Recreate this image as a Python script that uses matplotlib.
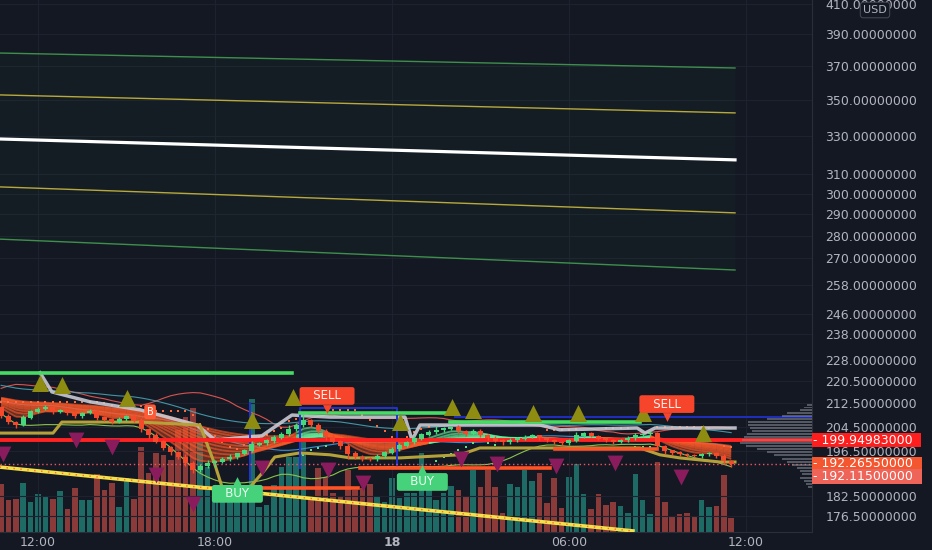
import numpy as np
import pandas as pd
import matplotlib
matplotlib.use('Agg')
import matplotlib.pyplot as plt
from matplotlib.collections import LineCollection

# 15 minute bars, hour 0 = 12:00 on the 17th
bar_start = -1.25
bar_step = 0.25
first_open = 211.0

# closes before the visible window, only used to warm up the indicators
prior_closes = [216.0, 215.4, 215.8, 214.6, 214.9, 213.8, 213.2, 213.9, 212.6, 212.1, 211.4, 211.8]

closes = [208.0, 206.0, 205.0, 207.5, 209.5, 210.5, 211.0, 209.5, 210.0, 209.0,
          208.0, 209.0, 209.8, 207.5, 206.8, 206.0, 207.0, 208.0, 206.5, 203.5,
          201.5, 199.5, 197.5, 196.0, 194.5, 192.5, 190.5, 191.5, 192.5, 193.0,
          193.8, 194.5, 195.5, 196.5, 198.5, 199.0, 199.8, 200.8, 202.0, 203.5,
          205.0, 206.5, 205.0, 203.0, 201.0, 199.5, 198.0, 195.5, 194.5, 194.0,
          193.8, 194.8, 195.8, 197.0, 198.2, 199.2, 200.5, 201.8, 202.6, 203.2,
          203.8, 204.2, 203.0, 202.0, 203.0, 201.6, 200.6, 199.8, 199.2, 199.9,
          200.5, 201.0, 201.4, 200.6, 199.9, 199.3, 198.9, 199.8, 201.4, 202.2,
          201.3, 200.5, 199.9, 199.4, 200.0, 200.6, 201.5, 201.9, 202.2, 198.0,
          196.5, 195.8, 195.4, 195.1, 194.8, 195.3, 195.6, 194.8, 193.2, 192.27]

wick_up = [0.6, 0.8, 0.5, 0.9, 0.7, 0.6, 0.8, 0.5, 0.6, 0.4,
           0.7, 0.5, 0.6, 0.4, 0.5, 0.6, 0.7, 0.5, 0.6, 0.8,
           0.5, 0.9, 0.6, 0.7, 0.5, 0.8, 0.6, 0.7, 0.9, 0.5,
           0.6, 0.8, 0.4, 0.7, 1.2, 0.5, 0.6, 0.9, 0.7, 1.5,
           0.8, 2.5, 0.7, 0.6, 0.5, 0.9, 0.4, 0.6, 0.8, 0.5,
           0.4, 0.7, 0.5, 0.6, 0.8, 0.5, 0.9, 0.6, 0.7, 1.4,
           0.6, 0.5, 0.7, 0.4, 0.6, 0.5, 0.4, 0.6, 0.5, 0.7,
           0.4, 0.5, 0.6, 0.4, 0.5, 0.6, 0.3, 0.5, 1.2, 0.6,
           0.4, 0.5, 0.6, 0.4, 0.5, 0.6, 0.7, 0.5, 0.9, 0.6,
           0.5, 0.4, 0.6, 0.5, 0.4, 0.6, 0.5, 0.4, 0.6, 0.3]

wick_dn = [0.5, 0.7, 0.9, 0.4, 0.6, 0.5, 0.4, 0.7, 0.5, 0.6,
           0.5, 0.6, 0.4, 0.7, 0.5, 0.8, 0.4, 0.6, 0.5, 0.7,
           0.9, 0.6, 0.8, 1.0, 0.7, 0.9, 1.2, 0.8, 0.6, 1.1,
           0.5, 0.7, 0.6, 0.5, 0.4, 0.6, 0.5, 0.7, 0.4, 0.6,
           0.5, 0.8, 0.6, 0.7, 0.9, 0.6, 0.8, 1.5, 0.7, 0.9,
           0.6, 0.5, 0.7, 0.4, 0.6, 0.5, 0.4, 0.6, 0.5, 0.7,
           0.4, 0.5, 0.6, 0.8, 0.5, 0.6, 0.7, 0.5, 0.9, 0.4,
           0.5, 0.6, 0.4, 0.5, 0.7, 0.5, 0.6, 0.4, 0.5, 0.6,
           0.4, 0.5, 0.6, 0.7, 0.4, 0.5, 0.6, 0.4, 0.5, 0.8,
           1.2, 0.6, 0.5, 0.7, 0.4, 0.6, 0.5, 0.7, 0.9, 0.8]

volumes = [48, 32, 33, 49, 30, 38, 36, 33, 41, 23,
           44, 32, 32, 58, 42, 49, 25, 54, 33, 85,
           59, 79, 77, 72, 102, 115, 124, 105, 65, 42,
           45, 39, 40, 45, 133, 25, 27, 47, 65, 75,
           75, 90, 32, 64, 55, 39, 35, 62, 42, 44,
           48, 35, 30, 54, 34, 39, 39, 79, 42, 32,
           39, 46, 42, 35, 62, 45, 62, 45, 19, 48,
           45, 62, 51, 59, 29, 54, 24, 55, 68, 38,
           23, 38, 27, 30, 26, 19, 58, 32, 18, 70,
           30, 15, 18, 19, 15, 32, 25, 26, 57, 14]

# regression channel (start / end of the fitted window)
reg_t = [-1.3, 23.63]
reg_mid = [328.3, 317.2]
reg_up1 = [353.0, 342.7]
reg_dn1 = [303.4, 290.7]
reg_up2 = [378.2, 369.0]
reg_dn2 = [278.4, 264.6]

# long trend line
trend_t = [-1.3, 20.17]
trend_p = [191.3, 172.2]

# horizontal levels (start hour, end hour, price)
green_levels = [(-1.3, 8.6, 223.4), (8.88, 13.86, 209.1), (13.97, 20.4, 206.0)]
red_levels = [(5.49, 10.85, 184.8), (10.92, 17.36, 191.0), (17.53, 21.0, 197.1)]
blue_level = (14.14, 26.3, 207.7)
blue_box = (8.88, 12.17, 191.0, 210.9)
blue_vline = (7.19, 187.3, 212.6)
key_level = 199.94983
last_price = 192.2655
prev_close = 192.115

# trailing stops
trail_t = [0.07, 0.47, 1.76, 3.46, 5.39, 6.0, 7.59, 8.61, 9.9, 12.44, 12.68, 12.95,
           17.02, 17.69, 20.31, 20.58, 20.92, 23.63]
trail_p = [223.4, 216.5, 213.0, 210.2, 205.0, 200.0, 201.4, 208.4, 207.7, 207.7, 200.0, 205.0,
           205.0, 203.4, 204.0, 202.3, 204.0, 204.0]
stop_t = [-1.29, 0.51, 0.81, 3.46, 5.49, 6.0, 6.24, 7.19, 7.69, 8.03, 8.88, 9.9, 10.58,
          12.27, 14.31, 14.98, 17.36, 20.41, 21.08, 21.76, 23.12, 23.63]
stop_p = [202.3, 202.3, 206.0, 206.0, 205.0, 192.0, 185.1, 185.1, 190.4, 194.5, 195.8, 195.2, 194.2,
          194.2, 195.2, 197.4, 197.4, 197.4, 195.2, 194.2, 192.9, 192.9]

# signal markers
up_tri_t = [0.07, 0.81, 3.02, 7.25, 8.64, 12.27, 14.03, 14.75, 16.78, 18.31, 20.5, 22.54]
up_tri_p = [219.7, 219.0, 214.3, 206.7, 214.7, 206.0, 211.2, 210.2, 209.1, 209.1, 209.1, 202.3]
dn_tri_t = [-1.19, 1.29, 2.51, 4.0, 5.25, 7.59, 9.83, 11.02, 14.34, 15.56, 17.56, 19.56, 21.8]
dn_tri_p = [195.5, 200.0, 197.7, 188.8, 180.0, 191.0, 190.4, 186.3, 193.9, 192.2, 191.7, 192.6, 188.2]

buy_t = [6.76, 13.03]
buy_p = [187.0, 190.7]
sell_t = [9.8, 21.32]
sell_p = [210.5, 207.7]
b_tag = (3.8, 209.5)

# volume profile on the right edge
vp_price = list(range(185, 213))
vp_len = [4, 6, 8, 12, 10, 12, 15, 20, 25, 30, 38, 45, 55, 66, 72, 70, 68, 65, 60, 62,
          64, 64, 45, 30, 25, 12, 8, 5]

price_ticks = [410, 390, 370, 350, 330, 310, 300, 290, 280, 270, 258, 246, 238, 228,
               220.5, 212.5, 204.5, 196.5, 182.5, 176.5]
time_ticks = [0, 6, 12, 18, 24]
time_labels = ['12:00', '18:00', '18', '06:00', '12:00']

BG = '#141823'
GRID = '#1e2230'
TXT = '#b2b5be'
UP = '#45d97c'
DN = '#f5492c'

n = len(closes)
t = bar_start + bar_step * np.arange(n)
opens = np.array([first_open] + closes[:-1])
cl = np.array(closes)
hi = np.maximum(opens, cl) + np.array(wick_up)
lo = np.minimum(opens, cl) - np.array(wick_dn)
up = cl >= opens

fig = plt.figure(figsize=(9.32, 5.5), dpi=100, facecolor=BG)
rect = [0, 18 / 550, 812 / 932, 532 / 550]
axv = fig.add_axes(rect)
ax = fig.add_axes(rect, sharex=axv)
axv.set_facecolor(BG)
ax.set_facecolor('none')

# volume
axv.bar(t, volumes, width=0.19, color=np.where(up, '#1e6b66', '#8a3a38'), lw=0)
axv.set_ylim(0, max(volumes) * 4.0)
axv.set_yticks([])
for s in axv.spines.values():
    s.set_visible(False)
axv.tick_params(axis='x', length=0, labelbottom=False)

ax.set_yscale('log')
ax.set_xlim(-1.288, 26.24)
ax.set_ylim(171.9, 412.7)

# regression channel
ax.fill_between(reg_t, reg_dn2, reg_up2, color='#1f3d2d', alpha=0.15, lw=0, zorder=1)
ax.plot(reg_t, reg_up2, color='#3f8f4c', lw=1, zorder=2)
ax.plot(reg_t, reg_dn2, color='#3f8f4c', lw=1, zorder=2)
ax.plot(reg_t, reg_up1, color='#b8a93c', lw=1, zorder=2)
ax.plot(reg_t, reg_dn1, color='#b8a93c', lw=1, zorder=2)
ax.plot(reg_t, reg_mid, color='white', lw=2.3, zorder=2)

# indicators from closes
k = len(prior_closes)
allc = pd.Series(prior_closes + closes)
bb_mid = allc.rolling(20, min_periods=1).mean().values[k:]
bb_sd = allc.rolling(20, min_periods=2).std().bfill().values[k:]
ax.plot(t, bb_mid + 2 * bb_sd, color='#d9534f', lw=0.8, zorder=2)
ax.plot(t, bb_mid - 2 * bb_sd, color='#8bc34a', lw=0.8, zorder=2)
ax.plot(t, bb_mid, color='#3b8fd0', lw=0.8, zorder=2)
ema34 = allc.ewm(span=34, adjust=False).mean().values[k:]
ax.plot(t, ema34 + 4.5, color='#4fb3c4', lw=0.8, alpha=0.8, zorder=2)

spans = [5, 8, 11, 14, 17, 20, 24, 28, 32, 36]
ribbon = np.array([allc.ewm(span=s, adjust=False).mean().values[k:] for s in spans])
bull = ribbon[1] > ribbon[-1]
seg_col = np.where(bull[1:], '#6cf0a0', '#ff5a28')
for line in ribbon:
    segs = np.stack([np.column_stack([t[:-1], line[:-1]]), np.column_stack([t[1:], line[1:]])], axis=1)
    ax.add_collection(LineCollection(segs, colors=seg_col, lw=1.3, alpha=0.6, zorder=3))
rib_lo, rib_hi = ribbon.min(axis=0), ribbon.max(axis=0)
bull_w = bull | np.r_[bull[1:], False]
bear_w = ~bull | np.r_[~bull[1:], False]
ax.fill_between(t, rib_lo, rib_hi, where=bull_w, color='#5fe08a', alpha=0.25, lw=0, zorder=3)
ax.fill_between(t, rib_lo, rib_hi, where=bear_w, color='#ff5a28', alpha=0.35, lw=0, zorder=3)

# stop dots
hmax = pd.Series(hi).rolling(8, min_periods=1).max().values
lmin = pd.Series(lo).rolling(8, min_periods=1).min().values
ax.scatter(t[~bull], hmax[~bull] + 1.2, s=3, marker='s', color='#ff6a3d', lw=0, zorder=4)
ax.scatter(t[bull], lmin[bull] - 1.0, s=3, marker='s', color='#5fe08a', lw=0, zorder=4)

# trailing stops
ax.plot(trail_t, trail_p, color='#c9cad3', lw=2.5, alpha=0.9, zorder=4)
ax.plot(stop_t, stop_p, color='#b5a13a', lw=2.2, zorder=4)

# levels
ax.axhline(key_level, color='#ff2222', lw=2.8, zorder=5)
ax.axhline(last_price, color='#f7525f', lw=1, ls=(0, (1, 2)), zorder=5)
for t0, t1, p in green_levels:
    ax.plot([t0, t1], [p, p], color='#46dc64', lw=2.6, zorder=5)
for t0, t1, p in red_levels:
    ax.plot([t0, t1], [p, p], color='#ff5326', lw=2.6, zorder=5)
ax.plot([blue_level[0], blue_level[1]], [blue_level[2]] * 2, color='#1f2fc0', lw=1.4, zorder=4)
bx0, bx1, by0, by1 = blue_box
ax.plot([bx0, bx0, bx1, bx1], [by0, by1, by1, by0], color='#2233d0', lw=1.4, zorder=4)
ax.plot([blue_vline[0]] * 2, blue_vline[1:], color='#2233d0', lw=1.4, zorder=4)

ax.plot(trend_t, trend_p, color='#f3e04a', lw=2.6, zorder=5)
ax.plot(trend_t, trend_p, color='#ff6a2d', lw=1, ls=(0, (1, 4)), zorder=5)

# candles
ccol = np.where(up, UP, DN)
ax.vlines(t, lo, hi, colors=ccol, lw=1, zorder=6)
ax.bar(t, np.abs(cl - opens) + 0.15, bottom=np.minimum(opens, cl), width=0.17,
       color=ccol, lw=0, zorder=6)

# volume profile, anchored to the price scale
vp_w = np.array(vp_len) / max(vp_len) * 2.44
ax.barh(vp_price, -vp_w, left=26.24, height=0.62, color='#8a8d97', alpha=0.55, lw=0, zorder=5)

# signal triangles
ax.scatter(up_tri_t, up_tri_p, marker='^', s=150, color='#8f8c12', lw=0, zorder=7)
ax.scatter(dn_tri_t, dn_tri_p, marker='v', s=130, color='#8a1c5e', lw=0, zorder=7)

# BUY / SELL tags
for x, p in zip(buy_t, buy_p):
    ax.scatter([x], [p], marker='^', s=40, color='#45d27a', lw=0, zorder=8)
    ax.annotate('   BUY   ', xy=(x, p), xytext=(0, -13), textcoords='offset pixels',
                ha='center', va='center', fontsize=8.5, color='#eafff0', zorder=9,
                bbox=dict(boxstyle='round,pad=0.2', fc='#45d27a', ec='none'))
for x, p in zip(sell_t, sell_p):
    ax.scatter([x], [p], marker='v', s=40, color='#f7452b', lw=0, zorder=8)
    ax.annotate('   SELL   ', xy=(x, p), xytext=(0, 13), textcoords='offset pixels',
                ha='center', va='center', fontsize=8.5, color='#fff0ec', zorder=9,
                bbox=dict(boxstyle='round,pad=0.2', fc='#f7452b', ec='none'))
ax.text(b_tag[0], b_tag[1], 'B', ha='center', va='center', fontsize=7, color='white', zorder=9,
        bbox=dict(boxstyle='round,pad=0.25', fc='#ff5a36', ec='none'))

# axes styling
ax.minorticks_off()
ax.yaxis.tick_right()
ax.set_yticks(price_ticks, labels=[f'{v:.8f}' for v in price_ticks])
ax.set_xticks(time_ticks, labels=time_labels)
ax.get_xticklabels()[2].set_fontweight('bold')
ax.tick_params(axis='y', length=0, pad=9.5, labelsize=9, colors=TXT)
ax.tick_params(axis='x', length=0, pad=3, labelsize=9, colors=TXT)
ax.grid(True, color=GRID, lw=0.8)
ax.set_axisbelow(True)
for name, s in ax.spines.items():
    s.set_visible(name in ('right', 'bottom'))
    s.set_color('#2a2e39')

# price tags on the scale
tags = [(key_level, '#ff1e1e', 0), (last_price, '#f4562f', 0), (prev_close, '#ee6459', -12)]
for p, c, dy in tags:
    ax.annotate(f'- {p:.8f}  ', xy=(1, p), xycoords=ax.get_yaxis_transform(),
                xytext=(1, dy), textcoords='offset pixels', ha='left', va='center',
                fontsize=9, color='white', annotation_clip=False, zorder=10,
                bbox=dict(boxstyle='square,pad=0.05', fc=c, ec='none'))

fig.text(875 / 932, 1 - 10 / 550, 'USD', ha='center', va='center', fontsize=8, color=TXT,
         bbox=dict(boxstyle='round,pad=0.25', fc=BG, ec='#434651', lw=0.8))

fig.savefig('out.png', dpi=100, facecolor=BG)
